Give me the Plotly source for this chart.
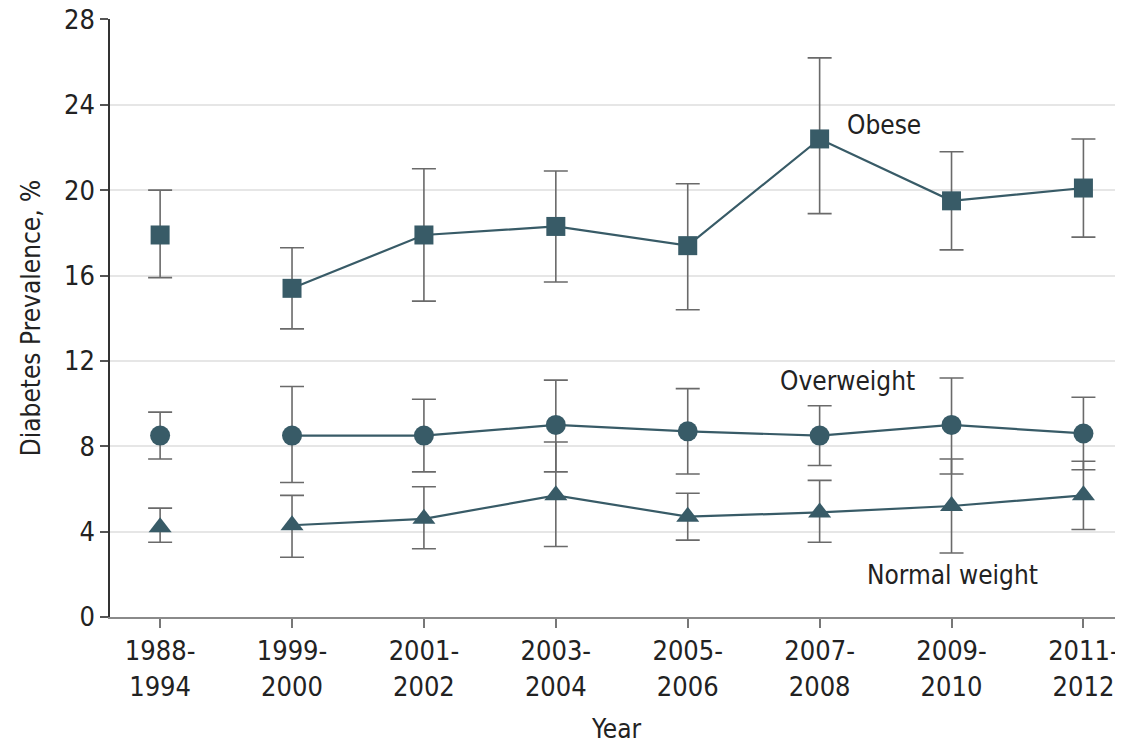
import plotly.graph_objects as go

periods = ["1988-<br>1994", "1999-<br>2000", "2001-<br>2002", "2003-<br>2004",
           "2005-<br>2006", "2007-<br>2008", "2009-<br>2010", "2011-<br>2012"]

obese = [17.9, 15.4, 17.9, 18.3, 17.4, 22.4, 19.5, 20.1]
obese_hi = [20.0, 17.3, 21.0, 20.9, 20.3, 26.2, 21.8, 22.4]
obese_lo = [15.9, 13.5, 14.8, 15.7, 14.4, 18.9, 17.2, 17.8]

overweight = [8.5, 8.5, 8.5, 9.0, 8.7, 8.5, 9.0, 8.6]
overweight_hi = [9.6, 10.8, 10.2, 11.1, 10.7, 9.9, 11.2, 10.3]
overweight_lo = [7.4, 6.3, 6.8, 6.8, 6.7, 7.1, 6.7, 6.9]

normal = [4.2, 4.3, 4.6, 5.7, 4.7, 4.9, 5.2, 5.7]
normal_hi = [5.1, 5.7, 6.1, 8.2, 5.8, 6.4, 7.4, 7.3]
normal_lo = [3.5, 2.8, 3.2, 3.3, 3.6, 3.5, 3.0, 4.1]

y_ticks = [0, 4, 8, 12, 16, 20, 24, 28]

labels = [("Obese", 5.49, 23.05), ("Overweight", 5.21, 11.05), ("Normal weight", 6.01, 1.97)]

FONT = "DejaVu Sans Condensed, Liberation Sans Narrow, sans-serif"
MC = "#385b67"
EC = "#6a6a6a"

fig = go.Figure()
series = [
    (obese, obese_hi, obese_lo, "square", 19),
    (overweight, overweight_hi, overweight_lo, "circle", 20),
    (normal, normal_hi, normal_lo, "triangle-up", 20),
]
for vals, hi, lo, sym, size in series:
    # connecting line (first survey period is not connected)
    fig.add_trace(go.Scatter(
        x=periods[1:], y=vals[1:], mode="lines",
        line=dict(color=MC, width=2.2), hoverinfo="skip", showlegend=False))
    fig.add_trace(go.Scatter(
        x=periods, y=vals, mode="markers",
        marker=dict(symbol=sym, size=size, color=MC, line=dict(width=0)),
        error_y=dict(type="data", symmetric=False,
                     array=[h - v for h, v in zip(hi, vals)],
                     arrayminus=[v - l for v, l in zip(vals, lo)],
                     color=EC, thickness=1.6, width=12),
        showlegend=False))

for text, x, y in labels:
    fig.add_annotation(x=x, y=y, text=text, showarrow=False,
                       font=dict(family=FONT, size=26, color="#222222"))

# page body has an 8px margin, so the figure is sized/offset to compensate
fig.update_layout(
    width=1115, height=736,
    margin=dict(l=102, r=0, t=11, b=127),
    paper_bgcolor="white", plot_bgcolor="white",
    font=dict(family=FONT, size=26, color="#222222"),
    showlegend=False,
)
fig.update_xaxes(
    type="category", categoryorder="array", categoryarray=periods,
    range=[-0.38, 7.3], automargin=False,
    showline=True, linecolor="#8a8a8a", linewidth=2,
    ticks="outside", ticklen=9, tickwidth=1.5, tickcolor="#777777",
    showgrid=False, tickfont=dict(size=27, color="#222222"),
    title=dict(text="Year", font=dict(size=26, color="#222222"), standoff=22),
)
fig.update_yaxes(
    range=[0, 28.02], tickvals=y_ticks, automargin=False, ticklabeloverflow="allow",
    showline=True, linecolor="#333333", linewidth=1.5,
    ticks="outside", ticklen=8, tickwidth=1.5, tickcolor="#555555",
    showgrid=True, gridcolor="#e6e6e6", gridwidth=2, zeroline=False,
    tickfont=dict(size=27, color="#222222"),
    title=dict(text="Diabetes Prevalence, %", font=dict(size=26, color="#222222"), standoff=16),
)

fig.write_html("out.html")
